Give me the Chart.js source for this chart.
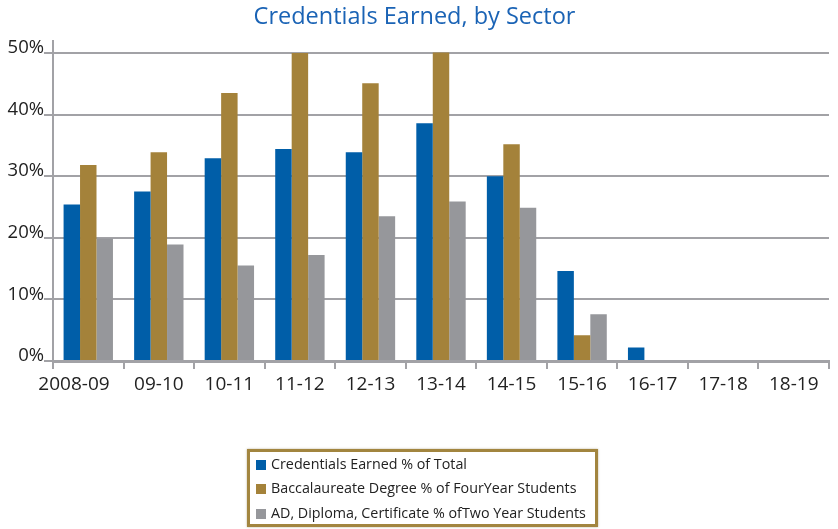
<!DOCTYPE html>
<html>
<head>
<meta charset="utf-8">
<script src="https://cdn.jsdelivr.net/npm/chart.js@4.4.1/dist/chart.umd.min.js"></script>
<style>
  html, body { margin: 0; padding: 0; background: #fff; }
  #wrap { position: relative; width: 838px; height: 529px; }
  #legend {
    position: absolute; left: 247px; top: 449px; width: 345px; height: 72px;
    border: 3px solid #a2853f; padding: 0; margin: 0; list-style: none;
    font-family: "Open Sans", sans-serif; font-size: 14.3px; color: #222;
    box-shadow: 0 0 2px rgba(120, 100, 50, 0.5);
  }
  #legend li { position: absolute; left: 6px; height: 20px; line-height: 20px; white-space: nowrap; }
  #legend span.sw { display: inline-block; width: 10px; height: 10px; margin-right: 5px; vertical-align: -1px; }
</style>
</head>
<body>
<div id="wrap">
  <canvas id="chart" width="838" height="529"></canvas>
  <ul id="legend"></ul>
</div>
<script>
const categories = ['2008-09', '09-10', '10-11', '11-12', '12-13', '13-14', '14-15', '15-16', '16-17', '17-18', '18-19'];
const credentialsTotal = [25.4, 27.5, 32.9, 34.4, 33.9, 38.6, 30.0, 14.6, 2.2, 0, 0];
const baccalaureate = [31.8, 33.9, 43.5, 50.0, 45.1, 50.1, 35.2, 4.2, 0, 0, 0];
const twoYear = [19.9, 18.9, 15.5, 17.2, 23.5, 25.9, 24.9, 7.6, 0, 0, 0];
const seriesNames = [
    'Credentials Earned % of Total',
    'Baccalaureate Degree % of FourYear Students',
    'AD, Diploma, Certificate % ofTwo Year Students'
];
const seriesColors = ['#005ea8', '#a4823a', '#96979b'];

const gridGray = '#a2a2a6';
const font = '"Open Sans", sans-serif';

const chart = new Chart(document.getElementById('chart'), {
    type: 'bar',
    data: {
        labels: categories,
        datasets: [credentialsTotal, baccalaureate, twoYear].map((d, i) => ({
            label: seriesNames[i],
            data: d,
            backgroundColor: seriesColors[i],
            borderWidth: 0,
            barPercentage: 1,
            categoryPercentage: 0.7
        }))
    },
    options: {
        responsive: false,
        animation: false,
        layout: { padding: { left: 0, right: 9, top: 0, bottom: 128 } },
        plugins: {
            legend: { display: false },
            tooltip: { enabled: false },
            title: {
                display: true,
                text: 'Credentials Earned, by Sector',
                color: '#1a63b5',
                font: { family: font, size: 23.5, weight: 'normal' },
                padding: { top: 3, bottom: 9.5 }
            }
        },
        scales: {
            x: {
                grid: {
                    offset: true,
                    drawOnChartArea: false,
                    drawTicks: true,
                    tickLength: 8,
                    color: gridGray,
                    lineWidth: 2
                },
                border: { color: gridGray, width: 3 },
                ticks: {
                    color: '#222',
                    font: { family: font, size: 19 },
                    padding: 4,
                    maxRotation: 0,
                    autoSkip: false,
                    // first label sits a little left of its bar group in the original
                    callback: function(v, i) {
                        const t = this.getLabelForValue(v);
                        return i === 0 ? t + '\u2003\u2002' : t;
                    }
                },
                afterFit: s => { s.height = 40; }
            },
            y: {
                min: 0,
                max: 52,
                grid: { color: gridGray, lineWidth: 2, tickLength: 9 },
                border: { color: gridGray, width: 2 },
                ticks: {
                    stepSize: 10,
                    includeBounds: false,
                    color: '#222',
                    padding: 0,
                    labelOffset: -5,
                    font: { family: font, size: 18.5 },
                    callback: v => v + '%'
                },
                afterFit: s => { s.width = 53; }
            }
        }
    }
});

// legend box below the chart, built from the datasets
const legendEl = document.getElementById('legend');
chart.data.datasets.forEach((ds, i) => {
    const li = document.createElement('li');
    li.style.top = (1.5 + i * 24.5) + 'px';
    li.innerHTML = '<span class="sw" style="background:' + ds.backgroundColor + '"></span>' + ds.label;
    legendEl.appendChild(li);
});
</script>
</body>
</html>
